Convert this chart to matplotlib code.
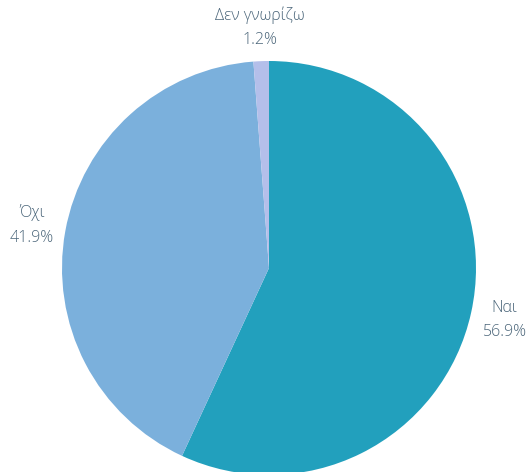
import matplotlib.pyplot as plt

# survey answers, percent
labels = ['Ναι', 'Όχι', 'Δεν γνωρίζω']
shares = [56.9, 41.9, 1.2]
colors = ['#22a0bd', '#7bb0dc', '#b4bfea']

plt.rcParams['font.family'] = ['Open Sans', 'DejaVu Sans']

fig = plt.figure(figsize=(5.27, 4.72), dpi=100)
ax = fig.add_axes([0, 0, 1, 1])

texts = [f'{l}\n{v:.1f}%' for l, v in zip(labels, shares)]
wedges, label_texts = ax.pie(shares, labels=texts, colors=colors,
                             startangle=90, counterclock=False,
                             center=(269, 204), radius=207,
                             labeldistance=1.165, frame=True,
                             textprops=dict(color='#4a6579', fontsize=11.5,
                                            fontweight='light',
                                            linespacing=1.7))
for t in label_texts:
    t.set_ha('center')
    t.set_va('center')
    t.set_multialignment('center')

ax.set_xlim(0, 527)
ax.set_ylim(0, 472)
ax.set_aspect('equal')
ax.axis('off')

fig.savefig('out.png', dpi=100)
